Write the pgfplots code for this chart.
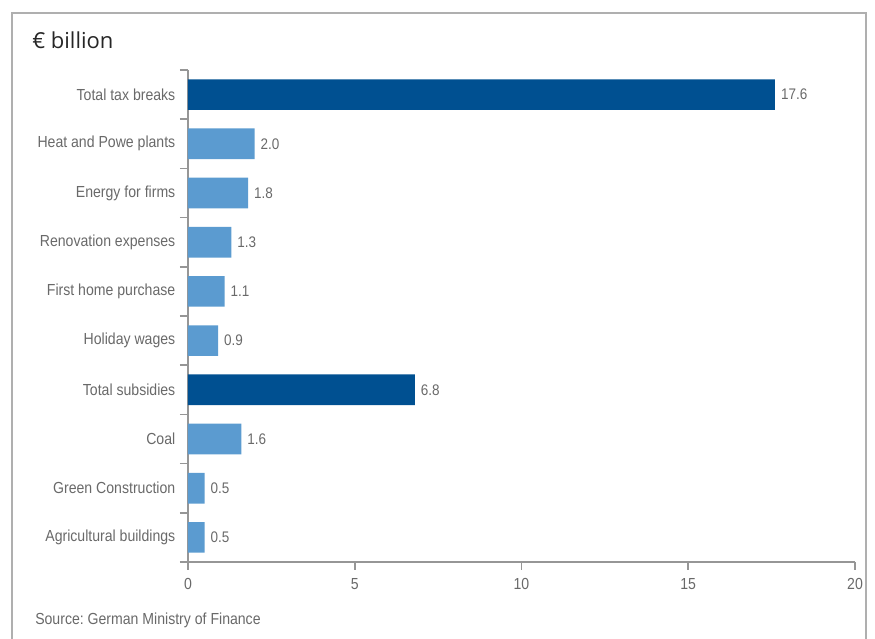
\documentclass[border=0pt]{standalone}
\usepackage{fontspec}
\setmainfont{Liberation Sans}[FakeStretch=0.88]
\newfontfamily\titlefont{Open Sans}
\usepackage{pgfplots}
\pgfplotsset{compat=1.18}
\definecolor{darkbar}{RGB}{0,80,145}
\definecolor{lightbar}{RGB}{91,155,208}
\definecolor{txt}{RGB}{105,105,105}
\definecolor{axisgray}{RGB}{150,150,150}
\definecolor{framegray}{RGB}{175,175,175}
\frenchspacing
\begin{document}
\begin{tikzpicture}[x=0.75pt,y=0.75pt]
\useasboundingbox (0,0) rectangle (875,639);
\draw[framegray, line width=1.1pt] (12,-5) -- (12,626) -- (866,626) -- (866,-5);
\node[anchor=base west, inner sep=0pt, font=\titlefont\fontsize{16.5}{19}\selectfont, text=black!85] at (32,639-49) {€ billion};
\node[anchor=base west, inner sep=0pt, font=\fontsize{12}{14}\selectfont, text=txt] at (35,639-625) {Source: German Ministry of Finance};
\begin{axis}[
  at={(141pt,57.75pt)}, anchor=south west,
  scale only axis, width=500.25pt, height=369pt,
  xmin=0, xmax=20, ymin=-0.5, ymax=9.5,
  xbar, bar width=23pt,
  axis lines*=left,
  axis line style={axisgray, line width=1.3pt},
  /pgf/number format/assume math mode=true,
  xtick={0,5,10,15,20},
  ytick={-0.5,0.5,...,9.5},
  yticklabels={},
  extra y ticks={0,...,9},
  extra y tick labels={Agricultural buildings, Green Construction, Coal, Total subsidies, Holiday wages, First home purchase, Renovation expenses, Energy for firms, Heat and Powe plants, Total tax breaks},
  extra y tick style={major tick style={draw=none}},
  tick align=outside,
  major tick length=6pt,
  tick style={axisgray, line width=1.3pt},
  tick label style={font=\fontsize{12}{14}\selectfont, text=txt},
  xticklabel style={yshift=-3pt},
  nodes near coords={\pgfmathprintnumber[fixed,fixed zerofill,precision=1]{\pgfplotspointmeta}},
  nodes near coords style={font=\fontsize{11.5}{13}\selectfont, text=txt, xshift=1pt},
  clip=false,
]
\addplot[fill=lightbar, draw=none, bar shift=0pt] coordinates {
  (0.5,0) (0.5,1) (1.6,2) (0.9,4) (1.1,5) (1.3,6) (1.8,7) (2.0,8)
};
\addplot[fill=darkbar, draw=none, bar shift=0pt] coordinates {
  (6.8,3) (17.6,9)
};
\end{axis}
\end{tikzpicture}
\end{document}
